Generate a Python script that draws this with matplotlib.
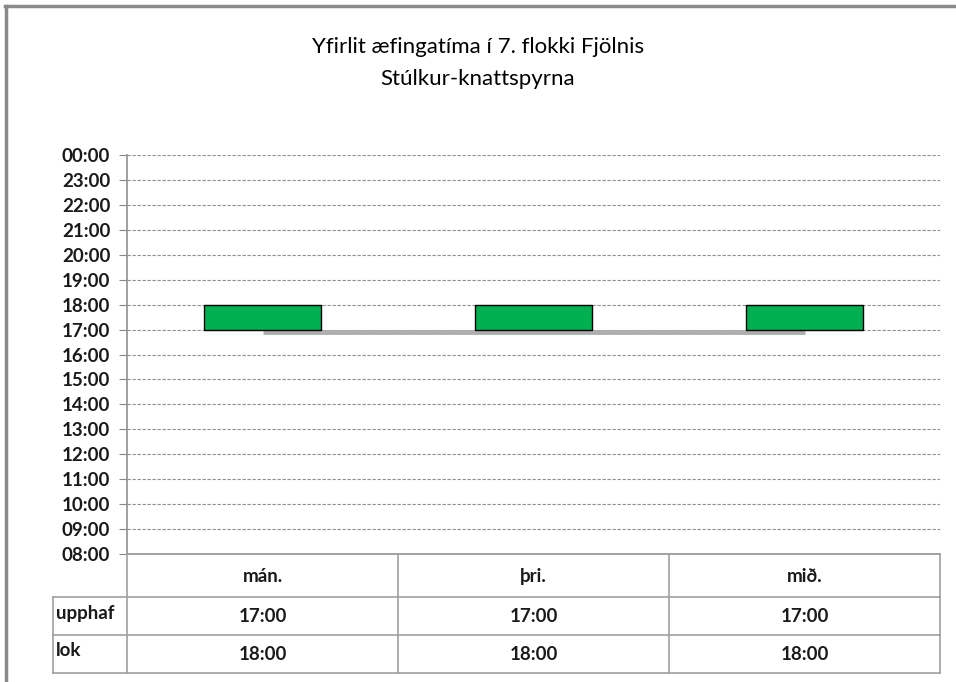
import matplotlib.pyplot as plt
import matplotlib.transforms as mtransforms
from matplotlib.lines import Line2D

# data
days = ['mán.', 'þri.', 'mið.']
start_hour = [17, 17, 17]
end_hour = [18, 18, 18]
row_labels = ['upphaf', 'lok']
y_ticks = list(range(8, 25))
title = 'Yfirlit æfingatíma í 7. flokki Fjölnis\nStúlkur-knattspyrna'

W, H = 956, 682
plt.rcParams['font.family'] = ['Lato', 'DejaVu Sans']
fig = plt.figure(figsize=(W / 100, H / 100), dpi=100)

def fx(px):
    return px / W

def fy(py):
    return 1 - py / H

# main plot area (pixel edges)
left, right, top, bottom = 127, 940, 155, 554
ax = fig.add_axes([fx(left), fy(bottom), fx(right - left), fy(top) - fy(bottom)])
x = list(range(len(days)))
ax.set_xlim(-0.5, len(days) - 0.5)
ax.set_ylim(8, 24)

heights = [e - s for s, e in zip(start_hour, end_hour)]
ax.bar(x, heights, bottom=start_hour, width=0.43, color='#00B050',
       edgecolor='black', linewidth=1.0, zorder=3)

# grey line of the hidden start series, with a small shadow offset
off = mtransforms.offset_copy(ax.transData, fig=fig, x=0, y=-2, units='points')
ax.plot(x, start_hour, color='#AEAEAE', linewidth=3.5, transform=off, zorder=2,
        solid_capstyle='butt')

fs = 13.5
ax.set_yticks(y_ticks)
ax.set_yticklabels(['%02d:00' % (h % 24) for h in y_ticks], fontsize=fs,
                   fontweight='bold', color='#1a1a1a')
ax.tick_params(axis='y', length=6, color='#888888', pad=6)
ax.set_xticks([])
ax.yaxis.grid(True, linestyle=(0, (3, 1.5)), color='#909090', linewidth=0.8)
ax.set_axisbelow(True)
for s in ['top', 'right']:
    ax.spines[s].set_visible(False)
for s in ['left', 'bottom']:
    ax.spines[s].set_color('#909090')
    ax.spines[s].set_linewidth(1.2)

# data table under the plot
col_w = (right - left) / len(days)
row_tops = [554, 597, 635, 673]
lab_left = 53
gc = '#A0A0A0'

def hline(x0, x1, y):
    fig.add_artist(Line2D([fx(x0), fx(x1)], [fy(y), fy(y)], color=gc, lw=1.2))

def vline(xx, y0, y1):
    fig.add_artist(Line2D([fx(xx), fx(xx)], [fy(y0), fy(y1)], color=gc, lw=1.2))

for y in row_tops[1:]:
    hline(lab_left, right, y)
for i in range(len(days) + 1):
    vline(left + i * col_w, row_tops[0], row_tops[-1])
vline(lab_left, row_tops[1], row_tops[-1])

for i, d in enumerate(days):
    cx = left + (i + 0.5) * col_w
    fig.text(fx(cx), fy((row_tops[0] + row_tops[1]) / 2 + 1), d, ha='center',
             va='center', fontsize=fs, fontweight='bold', color='#1a1a1a')
    for r, vals in enumerate([start_hour, end_hour]):
        cy = (row_tops[r + 1] + row_tops[r + 2]) / 2
        fig.text(fx(cx), fy(cy), '%02d:00' % vals[i], ha='center', va='center',
                 fontsize=fs, fontweight='bold', color='#1a1a1a')
for r, lab in enumerate(row_labels):
    cy = (row_tops[r + 1] + row_tops[r + 2]) / 2
    fig.text(fx(lab_left + 3), fy(cy - 3), lab, ha='left', va='center',
             fontsize=fs, fontweight='bold', color='#1a1a1a')

# title
fig.text(0.5, fy(63), title, ha='center', va='center', fontsize=16,
         linespacing=1.7, color='black')

# chart frame border (cropped, only top and left visible)
fig.add_artist(Line2D([fx(5), 1], [fy(6), fy(6)], color='#8a8a8a', lw=2.5))
fig.add_artist(Line2D([fx(6), fx(6)], [fy(6), 0], color='#8a8a8a', lw=2.5))

fig.savefig('out.png', dpi=100)
